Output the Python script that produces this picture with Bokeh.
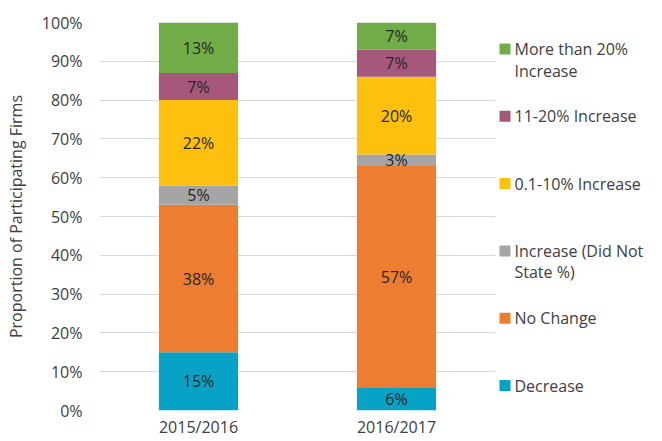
import textwrap
import numpy as np
from bokeh.plotting import figure
from bokeh.models import FixedTicker, Range1d, FactorRange, ColumnDataSource
from bokeh.layouts import row
from bokeh.core.properties import value
from bokeh.embed import file_html
from bokeh.resources import INLINE

# ---------------- data ----------------
periods = ["2015/2016", "2016/2017"]
series = ["Decrease", "No Change", "Increase (Did Not State %)",
          "0.1-10% Increase", "11-20% Increase", "More than 20% Increase"]
decrease = [15, 6]
no_change = [38, 57]
increase_unstated = [5, 3]
increase_0_10 = [22, 20]
increase_11_20 = [7, 7]
increase_over_20 = [13, 7]
colors = ["#08A2C6", "#ED7D31", "#A5A5A5", "#FEC00F", "#A5587A", "#70AD47"]
y_ticks = [0, 10, 20, 30, 40, 50, 60, 70, 80, 90, 100]
y_axis_title = "Proportion of Participating Firms"

values = [decrease, no_change, increase_unstated, increase_0_10,
          increase_11_20, increase_over_20]

FONT = "Open Sans"
FS = "16px"
TXT = "#404040"
W, H = 662, 441
MAIN_W = 498
TOP, BOTTOM = 22, 31

# ---------------- main chart ----------------
data = {"period": periods}
for name, vals in zip(series, values):
    data[name] = vals
src = ColumnDataSource(data)

p = figure(x_range=FactorRange(*periods, range_padding=0), y_range=Range1d(0, 100),
           width=MAIN_W, height=H, output_backend="svg", toolbar_location=None,
           min_border_left=99, min_border_right=3, min_border_top=TOP,
           min_border_bottom=BOTTOM)

p.vbar_stack(series, x="period", width=0.4, color=colors, line_color=None,
             source=src)

# data labels
lx, ly, lt = [], [], []
cum = np.zeros(len(periods))
for vals in values:
    v = np.array(vals, dtype=float)
    mid = cum + v / 2
    for k, per in enumerate(periods):
        lx.append(per)
        ly.append(mid[k])
        lt.append(f"{int(v[k])}%")
    cum += v
p.text(x=lx, y=ly, text=lt, text_align="center", text_baseline="middle",
       text_font=value(FONT), text_font_size=FS, text_color="#262626")

p.yaxis.ticker = FixedTicker(ticks=y_ticks)
p.yaxis.major_label_overrides = {t: f"{t}%" for t in y_ticks}
p.ygrid.ticker = FixedTicker(ticks=y_ticks)
p.ygrid.grid_line_color = "#D9D9D9"
p.ygrid.grid_line_width = 1
p.xgrid.grid_line_color = None
p.outline_line_color = None

for ax in (p.xaxis[0], p.yaxis[0]):
    ax.axis_line_color = None
    ax.major_tick_line_color = None
    ax.minor_tick_line_color = None
    ax.major_tick_out = 0
    ax.major_tick_in = 0
    ax.major_label_text_font = FONT
    ax.major_label_text_font_size = FS
    ax.major_label_text_color = TXT

p.yaxis.major_label_standoff = 17
p.xaxis.major_label_standoff = 5
p.yaxis.axis_label = y_axis_title
p.yaxis.axis_label_text_font = FONT
p.yaxis.axis_label_text_font_size = FS
p.yaxis.axis_label_text_font_style = "normal"
p.yaxis.axis_label_text_color = TXT
p.yaxis.axis_label_standoff = 12

# ---------------- legend (page-pixel coordinates) ----------------
LW = W - MAIN_W
lg = figure(width=LW, height=H, x_range=Range1d(MAIN_W, W),
            y_range=Range1d(H - BOTTOM, TOP),
            output_backend="svg", toolbar_location=None,
            min_border_left=0, min_border_right=0,
            min_border_top=TOP, min_border_bottom=BOTTOM,
            x_axis_location=None, y_axis_location=None)
lg.grid.visible = False
lg.outline_line_color = None

leg_names = series[::-1]
leg_colors = colors[::-1]
top_y, step, line_h = 48.5, 67.3, 21.5
sq_y = [top_y + i * step for i in range(len(leg_names))]
lg.rect(x=[504.5] * len(leg_names), y=sq_y, width=11, height=11,
        color=leg_colors, line_color=None)
tx, ty, tt = [], [], []
for i, name in enumerate(leg_names):
    for j, line in enumerate(textwrap.wrap(name, width=17)):
        tx.append(514)
        ty.append(sq_y[i] + j * line_h)
        tt.append(line)
lg.text(x=tx, y=ty, text=tt, text_align="left", text_baseline="middle",
        text_font=value(FONT), text_font_size=FS, text_color=TXT)

layout = row(p, lg)
open("out.html", "w").write(file_html(layout, INLINE))
